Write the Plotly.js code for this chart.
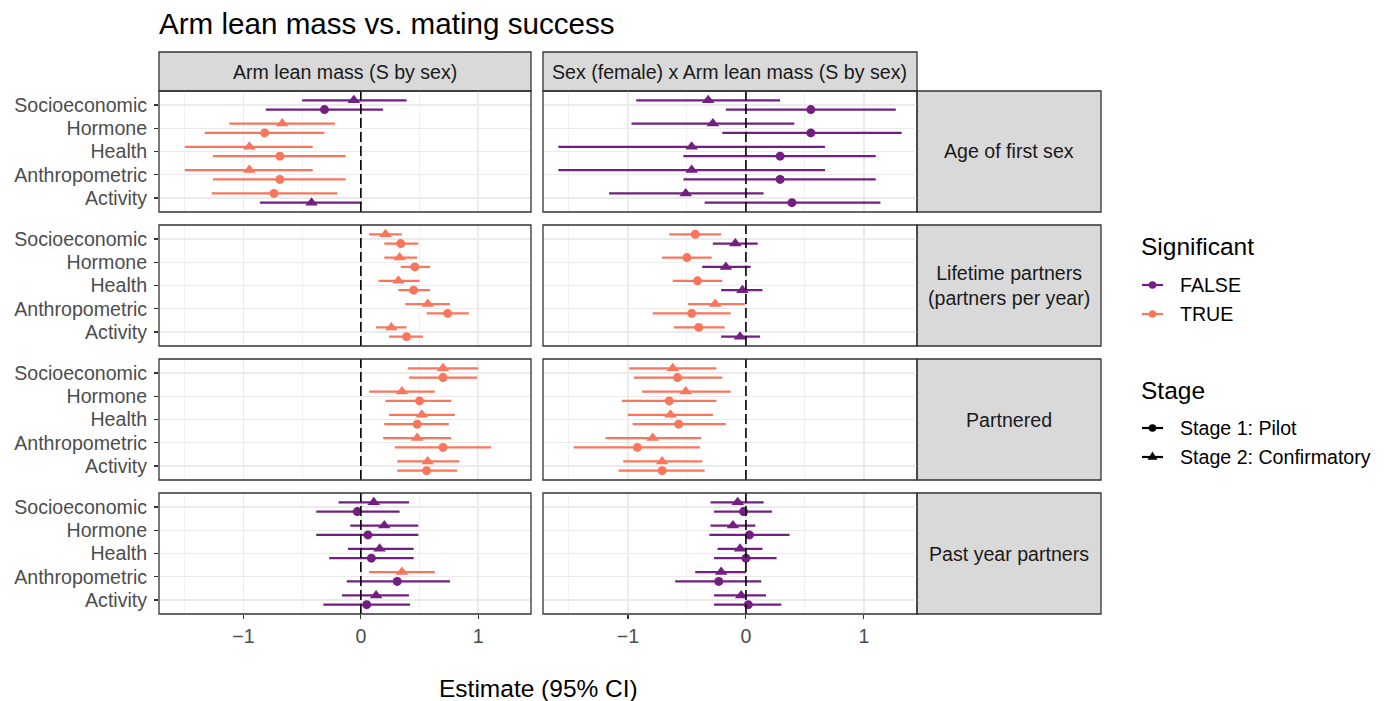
<!DOCTYPE html>
<html>
<head>
<meta charset="utf-8">
<script src="https://cdn.plot.ly/plotly-3.0.1.min.js"></script>
<style>html,body{margin:0;padding:0;background:#fff;}#chart{width:1390px;height:701px;}</style>
</head>
<body>
<div id="chart"></div>
<script>
// ---------------- DATA ----------------
const categories = ["Activity", "Anthropometric", "Health", "Hormone", "Socioeconomic"]; // bottom -> top
const outcomes = ["Age of first sex", "Lifetime partners<br>(partners per year)", "Partnered", "Past year partners"];
const terms = ["Arm lean mass (S by sex)", "Sex (female) x Arm lean mass (S by sex)"];
const stages = ["Stage 1: Pilot", "Stage 2: Confirmatory"];
const sigLevels = ["FALSE", "TRUE"];
const xTicks = [-1, 0, 1];

// Age of first sex — main effect
const ageMain_s1_est = [-0.74, -0.69, -0.69, -0.82, -0.31];
const ageMain_s1_lo  = [-1.27, -1.26, -1.26, -1.33, -0.81];
const ageMain_s1_hi  = [-0.20, -0.13, -0.13, -0.31, 0.19];
const ageMain_s1_sig = [true, true, true, true, false];
const ageMain_s2_est = [-0.42, -0.95, -0.95, -0.67, -0.06];
const ageMain_s2_lo  = [-0.86, -1.50, -1.50, -1.12, -0.50];
const ageMain_s2_hi  = [0.01, -0.41, -0.41, -0.22, 0.39];
const ageMain_s2_sig = [false, true, true, true, false];
// Age of first sex — interaction
const ageInt_s1_est = [0.39, 0.29, 0.29, 0.55, 0.55];
const ageInt_s1_lo  = [-0.35, -0.53, -0.53, -0.20, -0.17];
const ageInt_s1_hi  = [1.14, 1.10, 1.10, 1.32, 1.27];
const ageInt_s1_sig = [false, false, false, false, false];
const ageInt_s2_est = [-0.51, -0.46, -0.46, -0.28, -0.32];
const ageInt_s2_lo  = [-1.16, -1.59, -1.59, -0.97, -0.93];
const ageInt_s2_hi  = [0.15, 0.67, 0.67, 0.41, 0.29];
const ageInt_s2_sig = [false, false, false, false, false];
// Lifetime partners — main effect
const lifeMain_s1_est = [0.39, 0.74, 0.45, 0.46, 0.34];
const lifeMain_s1_lo  = [0.24, 0.56, 0.32, 0.34, 0.20];
const lifeMain_s1_hi  = [0.53, 0.92, 0.59, 0.59, 0.49];
const lifeMain_s1_sig = [true, true, true, true, true];
const lifeMain_s2_est = [0.26, 0.57, 0.32, 0.33, 0.21];
const lifeMain_s2_lo  = [0.13, 0.38, 0.15, 0.20, 0.07];
const lifeMain_s2_hi  = [0.39, 0.76, 0.50, 0.48, 0.35];
const lifeMain_s2_sig = [true, true, true, true, true];
// Lifetime partners — interaction
const lifeInt_s1_est = [-0.40, -0.46, -0.41, -0.50, -0.43];
const lifeInt_s1_lo  = [-0.61, -0.79, -0.62, -0.71, -0.65];
const lifeInt_s1_hi  = [-0.18, -0.13, -0.20, -0.29, -0.21];
const lifeInt_s1_sig = [true, true, true, true, true];
const lifeInt_s2_est = [-0.05, -0.26, -0.03, -0.17, -0.09];
const lifeInt_s2_lo  = [-0.21, -0.49, -0.21, -0.37, -0.28];
const lifeInt_s2_hi  = [0.12, -0.01, 0.14, 0.04, 0.10];
const lifeInt_s2_sig = [false, true, false, false, false];
// Partnered — main effect
const partMain_s1_est = [0.56, 0.70, 0.48, 0.50, 0.70];
const partMain_s1_lo  = [0.31, 0.29, 0.20, 0.21, 0.41];
const partMain_s1_hi  = [0.82, 1.11, 0.75, 0.77, 0.99];
const partMain_s1_sig = [true, true, true, true, true];
const partMain_s2_est = [0.57, 0.48, 0.52, 0.35, 0.70];
const partMain_s2_lo  = [0.31, 0.19, 0.24, 0.07, 0.40];
const partMain_s2_hi  = [0.84, 0.77, 0.80, 0.63, 1.00];
const partMain_s2_sig = [true, true, true, true, true];
// Partnered — interaction
const partInt_s1_est = [-0.71, -0.92, -0.57, -0.65, -0.58];
const partInt_s1_lo  = [-1.08, -1.46, -0.96, -1.05, -0.95];
const partInt_s1_hi  = [-0.35, -0.39, -0.17, -0.25, -0.20];
const partInt_s1_sig = [true, true, true, true, true];
const partInt_s2_est = [-0.71, -0.79, -0.64, -0.51, -0.62];
const partInt_s2_lo  = [-1.04, -1.19, -1.00, -0.88, -0.99];
const partInt_s2_hi  = [-0.37, -0.38, -0.28, -0.13, -0.25];
const partInt_s2_sig = [true, true, true, true, true];
// Past year partners — main effect
const pastMain_s1_est = [0.05, 0.31, 0.09, 0.06, -0.03];
const pastMain_s1_lo  = [-0.32, -0.12, -0.27, -0.38, -0.38];
const pastMain_s1_hi  = [0.42, 0.76, 0.45, 0.49, 0.33];
const pastMain_s1_sig = [false, false, false, false, false];
const pastMain_s2_est = [0.13, 0.35, 0.16, 0.20, 0.11];
const pastMain_s2_lo  = [-0.16, 0.07, -0.11, -0.09, -0.19];
const pastMain_s2_hi  = [0.41, 0.63, 0.45, 0.49, 0.41];
const pastMain_s2_sig = [false, true, false, false, false];
// Past year partners — interaction
const pastInt_s1_est = [0.02, -0.23, 0.00, 0.03, -0.02];
const pastInt_s1_lo  = [-0.27, -0.60, -0.27, -0.31, -0.27];
const pastInt_s1_hi  = [0.30, 0.13, 0.26, 0.37, 0.22];
const pastInt_s1_sig = [false, false, false, false, false];
const pastInt_s2_est = [-0.04, -0.21, -0.05, -0.11, -0.07];
const pastInt_s2_lo  = [-0.27, -0.43, -0.24, -0.30, -0.30];
const pastInt_s2_hi  = [0.17, 0.00, 0.14, 0.08, 0.15];
const pastInt_s2_sig = [false, false, false, false, false];

// ---------------- BUILD ----------------
const panels = [
  [[ageMain_s1_est, ageMain_s1_lo, ageMain_s1_hi, ageMain_s1_sig], [ageMain_s2_est, ageMain_s2_lo, ageMain_s2_hi, ageMain_s2_sig]],
  [[ageInt_s1_est, ageInt_s1_lo, ageInt_s1_hi, ageInt_s1_sig], [ageInt_s2_est, ageInt_s2_lo, ageInt_s2_hi, ageInt_s2_sig]],
  [[lifeMain_s1_est, lifeMain_s1_lo, lifeMain_s1_hi, lifeMain_s1_sig], [lifeMain_s2_est, lifeMain_s2_lo, lifeMain_s2_hi, lifeMain_s2_sig]],
  [[lifeInt_s1_est, lifeInt_s1_lo, lifeInt_s1_hi, lifeInt_s1_sig], [lifeInt_s2_est, lifeInt_s2_lo, lifeInt_s2_hi, lifeInt_s2_sig]],
  [[partMain_s1_est, partMain_s1_lo, partMain_s1_hi, partMain_s1_sig], [partMain_s2_est, partMain_s2_lo, partMain_s2_hi, partMain_s2_sig]],
  [[partInt_s1_est, partInt_s1_lo, partInt_s1_hi, partInt_s1_sig], [partInt_s2_est, partInt_s2_lo, partInt_s2_hi, partInt_s2_sig]],
  [[pastMain_s1_est, pastMain_s1_lo, pastMain_s1_hi, pastMain_s1_sig], [pastMain_s2_est, pastMain_s2_lo, pastMain_s2_hi, pastMain_s2_sig]],
  [[pastInt_s1_est, pastInt_s1_lo, pastInt_s1_hi, pastInt_s1_sig], [pastInt_s2_est, pastInt_s2_lo, pastInt_s2_hi, pastInt_s2_sig]]
];

const W = 1390, H = 701;
const px = v => v / W;
const py = v => 1 - v / H;
const FONT = "Liberation Sans, Arial, Helvetica, sans-serif";
const COL = {false: "#721F81", true: "#F8765C"};
const SYM = ["circle", "triangle-up"];
const MSIZE = [9, 11];
const colX = [[159, 531], [543, 917]];
const rowY = [[91, 212], [225, 346], [359, 480], [493, 614]];
const stripTop = [52, 91];
const stripRight = [917, 1101];
const DODGE = 0.2;

const traces = [];
const layout = {
  width: W, height: H, autosize: false,
  margin: {l: 0, r: 0, t: 0, b: 0, pad: 0},
  paper_bgcolor: "#ffffff", plot_bgcolor: "#ffffff",
  showlegend: false,
  font: {family: FONT, color: "#1A1A1A", size: 19.6},
  title: {text: "Arm lean mass vs. mating success", x: px(159), xanchor: "left", xref: "paper",
          y: py(24), yanchor: "middle", yref: "paper", font: {family: FONT, size: 29.6, color: "#000000"}},
  shapes: [], annotations: []
};

panels.forEach((panel, p) => {
  const row = Math.floor(p / 2), col = p % 2;
  const n = p + 1;
  const xa = "x" + (n === 1 ? "" : n), ya = "y" + (n === 1 ? "" : n);
  const xKey = "xaxis" + (n === 1 ? "" : n), yKey = "yaxis" + (n === 1 ? "" : n);
  const bottom = row === 3, left = col === 0;
  layout[xKey] = {
    domain: [px(colX[col][0]), px(colX[col][1])], anchor: ya,
    range: [-1.72, 1.45], tickmode: "array", tickvals: xTicks,
    ticktext: xTicks.map(v => v < 0 ? "\u2212" + Math.abs(v) : String(v)),
    showticklabels: bottom, ticks: bottom ? "outside" : "", ticklen: 4, tickwidth: 1.1, tickcolor: "#333333",
    tickfont: {family: FONT, size: 19.6, color: "#4D4D4D"},
    showgrid: true, gridcolor: "#EBEBEB", gridwidth: 1.4, zeroline: false, showline: false,
    minor: {tickmode: "array", tickvals: [-1.5, -0.5, 0.5], showgrid: true, gridcolor: "#EBEBEB", gridwidth: 0.7, ticks: ""},
    fixedrange: true
  };
  layout[yKey] = {
    domain: [py(rowY[row][1]), py(rowY[row][0])], anchor: xa,
    range: [0.4, 5.6], tickmode: "array", tickvals: [1, 2, 3, 4, 5], ticktext: categories,
    showticklabels: left, ticks: left ? "outside" : "", ticklen: 4, tickwidth: 1.1, tickcolor: "#333333",
    ticklabelstandoff: 3,
    tickfont: {family: FONT, size: 19.6, color: "#4D4D4D"},
    showgrid: true, gridcolor: "#EBEBEB", gridwidth: 1.4, zeroline: false, showline: false,
    fixedrange: true
  };

  // dodge positions
  const pts = [];
  categories.forEach((c, i) => {
    const a = {stage: 0, est: panel[0][0][i], lo: panel[0][1][i], hi: panel[0][2][i], sig: panel[0][3][i]};
    const b = {stage: 1, est: panel[1][0][i], lo: panel[1][1][i], hi: panel[1][2][i], sig: panel[1][3][i]};
    let upper;
    if (a.sig !== b.sig) upper = a.sig ? a : b; else upper = b;
    const lower = upper === a ? b : a;
    upper.y = (i + 1) + DODGE; lower.y = (i + 1) - DODGE;
    pts.push(a, b);
  });

  layout.shapes.push({type: "line", xref: xa, yref: ya + " domain", x0: 0, x1: 0, y0: 0, y1: 1,
    line: {color: "#000000", width: 1.6, dash: "10px,4px"}, layer: "above"});

  [false, true].forEach(sig => {
    [0, 1].forEach(stage => {
      const sel = pts.filter(q => q.sig === sig && q.stage === stage);
      if (!sel.length) return;
      traces.push({
        type: "scatter", mode: "markers", xaxis: xa, yaxis: ya,
        x: sel.map(q => q.est), y: sel.map(q => q.y),
        error_x: {type: "data", symmetric: false, array: sel.map(q => q.hi - q.est),
                  arrayminus: sel.map(q => q.est - q.lo), color: COL[sig], thickness: 2.2, width: 0},
        marker: {symbol: SYM[stage], size: MSIZE[stage], color: COL[sig], line: {width: 0}},
        hoverinfo: "x+y", cliponaxis: false
      });
    });
  });

  layout.shapes.push({type: "rect", xref: "paper", yref: "paper",
    x0: px(colX[col][0]), x1: px(colX[col][1]), y0: py(rowY[row][1]), y1: py(rowY[row][0]),
    line: {color: "#333333", width: 1.3}, fillcolor: "rgba(0,0,0,0)", layer: "above"});
});

// top strips
terms.forEach((t, c) => {
  layout.shapes.push({type: "rect", xref: "paper", yref: "paper",
    x0: px(colX[c][0]), x1: px(colX[c][1]), y0: py(stripTop[1]), y1: py(stripTop[0]),
    line: {color: "#333333", width: 1.3}, fillcolor: "#D9D9D9", layer: "below"});
  layout.annotations.push({text: t, xref: "paper", yref: "paper", x: px((colX[c][0] + colX[c][1]) / 2),
    y: py((stripTop[0] + stripTop[1]) / 2), xanchor: "center", yanchor: "middle", showarrow: false,
    font: {family: FONT, size: 19.6, color: "#1A1A1A"}});
});
// right strips
outcomes.forEach((o, r) => {
  layout.shapes.push({type: "rect", xref: "paper", yref: "paper",
    x0: px(stripRight[0]), x1: px(stripRight[1]), y0: py(rowY[r][1]), y1: py(rowY[r][0]),
    line: {color: "#333333", width: 1.3}, fillcolor: "#D9D9D9", layer: "below"});
  layout.annotations.push({text: o, xref: "paper", yref: "paper", x: px((stripRight[0] + stripRight[1]) / 2),
    y: py((rowY[r][0] + rowY[r][1]) / 2), xanchor: "center", yanchor: "middle", showarrow: false,
    font: {family: FONT, size: 19.6, color: "#1A1A1A"}});
});

// x axis title
layout.annotations.push({text: "Estimate (95% CI)", xref: "paper", yref: "paper", x: px(538), y: py(688),
  xanchor: "center", yanchor: "middle", showarrow: false, font: {family: FONT, size: 24.5, color: "#000000"}});

// legend
function legendTitle(txt, y) {
  layout.annotations.push({text: txt, xref: "paper", yref: "paper", x: px(1139), y: py(y),
    xanchor: "left", yanchor: "middle", showarrow: false, font: {family: FONT, size: 24.5, color: "#000000"}});
}
function legendItem(txt, y, color, symbol) {
  layout.shapes.push({type: "line", xref: "paper", yref: "paper", x0: px(1142), x1: px(1163), y0: py(y), y1: py(y),
    line: {color: color, width: 2.2}});
  if (symbol === "circle") {
    layout.shapes.push({type: "circle", xref: "paper", yref: "paper", xsizemode: "pixel", ysizemode: "pixel",
      xanchor: px(1152.5), yanchor: py(y), x0: -3.8, x1: 3.8, y0: -3.8, y1: 3.8,
      fillcolor: color, line: {width: 0}});
  } else {
    layout.shapes.push({type: "path", xref: "paper", yref: "paper", xsizemode: "pixel", ysizemode: "pixel",
      xanchor: px(1152.5), yanchor: py(y), path: "M -5,-2.8 L 5,-2.8 L 0,5.4 Z",
      fillcolor: color, line: {width: 0}});
  }
  layout.annotations.push({text: txt, xref: "paper", yref: "paper", x: px(1178), y: py(y),
    xanchor: "left", yanchor: "middle", showarrow: false, font: {family: FONT, size: 19.6, color: "#000000"}});
}
legendTitle("Significant", 247);
legendItem(sigLevels[0], 285, COL[false], "circle");
legendItem(sigLevels[1], 314, COL[true], "circle");
legendTitle("Stage", 390);
legendItem(stages[0], 428, "#000000", "circle");
legendItem(stages[1], 457, "#000000", "triangle");

Plotly.newPlot("chart", traces, layout, {staticPlot: true, displayModeBar: false});
</script>
</body>
</html>
